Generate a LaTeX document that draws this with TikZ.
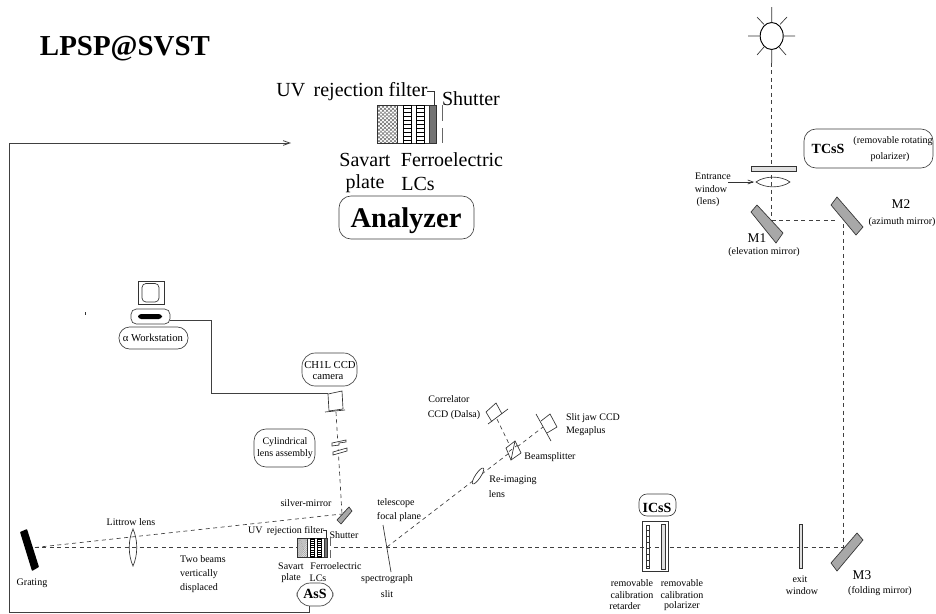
\documentclass[tikz,border=0pt]{standalone}
\usepackage{fontspec}
\setmainfont{Liberation Serif}
\usetikzlibrary{arrows.meta}
\definecolor{mirrorgray}{gray}{0.66}
\definecolor{linegray}{gray}{0.25}
\newcommand{\myhatchw}{0.35pt}
\newcommand{\myhatchc}{black!60}
\tikzset{
  txt/.style={inner sep=0pt,outer sep=0pt,anchor=center,font=\fontsize{7.5pt}{9pt}\selectfont},
  txtm/.style={txt,font=\fontsize{15pt}{18pt}\selectfont},
  txtl/.style={txt,font=\fontsize{8pt}{10pt}\selectfont},
  mlabel/.style={txt,font=\fontsize{10pt}{12pt}\selectfont},
  btxt/.style={txt,font=\fontsize{10.5pt}{12pt}\selectfont\bfseries},
  rbox/.style={draw=linegray,line width=0.5pt,rounded corners=#1},
  rbox/.default=7pt,
  beam/.style={draw=black!75,line width=0.5pt,dash pattern=on 3pt off 2.6pt},
  thin line/.style={draw=black!80,line width=0.5pt},
  cable/.style={draw=linegray,line width=0.6pt},
  mirror/.style={draw=black!80,fill=mirrorgray,line width=0.5pt},
  ladder/.pic={
    \draw[line width=0.5pt] (0,0) rectangle (8,38);
    \foreach \k in {3,7,...,35} \draw[line width=0.6pt] (0,\k) -- (8,\k);
  },
  analyzerblock/.pic={
    \begin{scope}
      \clip (0,0) rectangle (20,38);
      \foreach \k in {-40,-36,...,60} {
        \draw[\myhatchc,line width=\myhatchw] (\k,0) -- ++(40,38);
        \draw[\myhatchc,line width=\myhatchw] (\k,0) -- ++(-40,38);
      }
    \end{scope}
    \draw[thin line] (0,0) rectangle (59,38);
    \draw[thin line] (20,0) -- (20,38);
    \pic at (26,0) {ladder};
    \pic at (39,0) {ladder};
    \draw[draw=black!80,fill=black!55,line width=0.4pt] (52,0) rectangle (59,38);
    \draw[draw=black!60,line width=0.7pt] (65,0) -- (65,16) (65,23) -- (65,38);
    \draw[thin line] (50,-14) -- (57,-14) -- (57,0);
  }
}
\begin{document}
\begin{tikzpicture}[x=0.75pt,y=-0.75pt]
\useasboundingbox (0,0) rectangle (936,614);
\fill[white] (0,0) rectangle (936,614);

% title
\node[txt,font=\fontsize{21.7pt}{24pt}\selectfont\bfseries] (title) at (125,49) {LPSP@SVST};

% large analyzer
\pic at (377,105) {analyzerblock};
\node[txtm] (uvL) at (352,92) {UV\, rejection filter};
\node[txtm] (shL) at (471,99) {Shutter};
\node[txtm] (saL) at (365,160) {Savart};
\node[txtm] (feL) at (452,160) {Ferroelectric};
\node[txtm] (plL) at (365,184) {plate};
\node[txtm] (lcL) at (418,184) {LCs};
\draw[rbox=9pt] (339,196) rectangle (474,239);
\node[txt,font=\fontsize{21.4pt}{24pt}\selectfont\bfseries] (analyzer) at (406,221) {Analyzer};

% long cable from AsS to analyzer
\coordinate (cableA) at (309,606);
\coordinate (cableB) at (291,143);
\draw[cable,-{Straight Barb[length=5pt,width=3.5pt]}] (cableA) -- (309,612.5) -- (9,612.5) -- (9,143) -- (cableB);

% sun
\draw[line width=0.7pt] (771.7,36) ellipse [x radius=11.5,y radius=13.5];
\coordinate (sunB) at (771.7,49.5);
\draw[thin line] (771.7,7) -- (771.7,22.5)
  (748,36) -- (760,36) (783.5,36) -- (795,36)
  (757,17) -- (764,24.5) (787,17) -- (780,24.5)
  (757,55) -- (764,47) (786,55) -- (779,47)
  (sunB) -- (771.7,63);
\coordinate (m1c) at (771.7,220);
\coordinate (m2c) at (843,220);
\coordinate (m3c) at (843.5,547.5);
\coordinate (gr) at (35,547.5);
\coordinate (silver) at (342,514);
\draw[beam] (771.7,63) -- (m1c) -- (838,220);
\draw[beam] (843.5,224) -- (m3c);

% TCsS
\draw[thin line,fill=black!12] (751,166) rectangle (796,171);
\draw[thin line] (756,182) .. controls (765,175.5) and (781,175.5) .. (790,182) .. controls (781,188.5) and (765,188.5) .. (756,182) -- cycle;
\coordinate (entS) at (728,182);
\coordinate (entE) at (754,182);
\draw[thin line,-{Straight Barb[length=4pt,width=3pt]}] (entS) -- (entE);
\draw[rbox=9pt] (804,129) rectangle (933,168);
\node[btxt] (tcss) at (828,149) {TCsS};
\node[txt] (rr) at (893,141) {(removable rotating};
\node[txt] (rp) at (890,157) {polarizer)};
\node[txt] (e1) at (713,176) {Entrance};
\node[txt] (e2) at (711,189) {window};
\node[txt] (e3) at (708,202) {(lens)};

% mirrors
\draw[mirror] (757,205) -- (751,212) -- (776,243) -- (783,233) -- cycle;
\draw[mirror] (837,197) -- (831,205) -- (856,235) -- (863,227) -- cycle;
\draw[mirror] (857,533) -- (863,540) -- (837,571) -- (831,563) -- cycle;
\node[mlabel] (m1) at (757,238) {M1};
\node[txt] (m1t) at (764,252) {(elevation mirror)};
\node[mlabel] (m2) at (901,204) {M2};
\node[txt] (m2t) at (902,222) {(azimuth mirror)};
\node[mlabel] (m3) at (862,575) {M3};
\node[txt] (m3t) at (880,591) {(folding mirror)};

% main beam
\draw[beam] (gr) -- (m3c);
\draw[beam] (gr) -- (silver);

% exit window
\draw[thin line,fill=black!12] (799,524) rectangle (802,568);
\node[txt] (ex1) at (800,579) {exit};
\node[txt] (ex2) at (802,591) {window};

% ICsS
\draw[rbox=6pt] (639,494) rectangle (676,516);
\node[btxt] (icss) at (657,508) {ICsS};
\draw[thin line] (642,521) rectangle (668,571);
\fill[white] (646,525) rectangle (649,568);
\draw[thin line] (646,525) rectangle (649,568);
\foreach \k in {530,536,...,566} \draw[thin line] (646,\k) -- (649,\k);
\draw[thin line,fill=black!12] (661,524) rectangle (665,569);
\node[txt] (r1) at (632,583) {removable};
\node[txt] (r2) at (632,595) {calibration};
\node[txt] (r3) at (625,606) {retarder};
\node[txt] (p1) at (682,583) {removable};
\node[txt] (p2) at (682,595) {calibration};
\node[txt] (p3) at (682,606) {polarizer};

% grating + Littrow
\fill[black,rounded corners=0.5pt] (20,532) -- (27,529) -- (39,567) -- (32,571) -- cycle;
\node[txt] (grat) at (32,583) {Grating};
\draw[thin line] (133,529) .. controls (128,540) and (128,555) .. (133,566) .. controls (138,555) and (138,540) .. (133,529) -- cycle;
\node[txt] (lit) at (131,522) {Littrow lens};
\node[txt] (tb1) at (203,559) {Two beams};
\node[txt] (tb2) at (199,574) {vertically};
\node[txt] (tb3) at (199,588) {displaced};

% small analyzer
\begin{scope}[shift={(297,538)},x=0.39pt,y=-0.39pt]
  \renewcommand{\myhatchw}{0.15pt}
  \renewcommand{\myhatchc}{black!50}
  \fill[white] (0,0) rectangle (66,38);
  \pic at (0,0) {analyzerblock};
\end{scope}
\node[txt] (uvS) at (286,531) {UV\, rejection filter};
\node[txt] (shS) at (344,535) {Shutter};
\node[txt] (saS) at (291,566) {Savart};
\node[txt] (feS) at (336,566) {Ferroelectric};
\node[txt] (plS) at (291,578) {plate};
\node[txt] (lcS) at (318,578) {LCs};
\draw[rbox=10pt] (297,583) rectangle (333,606);
\node[btxt] (ass) at (315,594) {AsS};

% silver mirror and camera arm
\draw[mirror] (349,507) -- (352,511) -- (341,524) -- (337,520) -- cycle;
\node[txt] (sm) at (306,503) {silver-mirror};
\coordinate (camB) at (336,412);
\draw[beam] (camB) -- (silver);
\draw[thin line,fill=white] (332,443) -- (346,440) -- (346,442) -- (339,443) -- (339,445) -- (332,446) -- cycle;
\draw[thin line,fill=white] (333,452) -- (347,448) -- (347,451) -- (340,453) -- (333,455) -- cycle;
\draw[thin line] (328,394) -- (342,391) -- (343,409) -- (329,411) -- cycle;
\draw[thin line] (325,412) -- (345,410);
\draw[rbox=10pt] (302,353) rectangle (357,386);
\node[txtl] (ch1) at (330,365) {CH1L CCD};
\node[txtl] (ch2) at (328,377) {camera};
\draw[rbox=9pt] (254,429) rectangle (315,467);
\node[txt] (cy1) at (285,442) {Cylindrical};
\node[txt] (cy2) at (285,454) {lens assembly};

% workstation
\draw[thin line] (138,281) rectangle (164,304);
\draw[thin line,rounded corners=3pt] (142,283.5) rectangle (159,302);
\draw[rbox=4pt] (131,309) rectangle (170,324);
\fill[black,rounded corners=2.4pt] (138,314) rectangle (162,319);
\draw[rbox=8pt] (119,327) rectangle (188,349);
\node[txtl] (ws) at (153,338) {α Workstation};
\draw[thin line] (85,312) -- (85,315);
\coordinate (wsR) at (170,320);
\coordinate (camL) at (328,393);
\draw[cable] (wsR) -- (211,320) -- (211,393) -- (camL);

% spectrograph slit
\draw[thin line] (383,525) -- (391,572);
\node[txt] (te1) at (396,503) {telescope};
\node[txt] (te2) at (399,517) {focal plane};
\node[txt] (sp1) at (387,579) {spectrograph};
\node[txt] (sp2) at (387,594) {slit};

% re-imaging branch
\coordinate (slitC) at (387,547);
\coordinate (jawC) at (543,427);
\coordinate (corC) at (497,419);
\coordinate (bsC) at (511,448);
\draw[beam] (slitC) -- (jawC);
\draw[beam] (corC) -- (bsC);
\draw[thin line,fill=white,rotate around={56:(478,476)}] (478,476) ellipse [x radius=9.5,y radius=2.6];
\draw[thin line,fill=white] (515,441) -- (521,453) -- (511,460) -- (506,448) -- cycle;
\draw[thin line] (515,441) -- (511,460);
\draw[beam] (509,451.5) -- (517,445.5);
\draw[thin line] (536,414) -- (551,441);
\draw[thin line] (541,421) -- (550,414) -- (557,427) -- (547,433);
\draw[thin line] (488,424) -- (508,409);
\draw[thin line] (492,422) -- (486,412) -- (496,403) -- (502,414);
\node[txt] (co1) at (449,399) {Correlator};
\node[txt] (co2) at (454,415) {CCD (Dalsa)};
\node[txt,anchor=west] (sj1) at (566,418) {Slit jaw CCD};
\node[txt,anchor=west] (sj2) at (566,431) {Megaplus};
\node[txt] (bs) at (550,457) {Beamsplitter};
\node[txt] (ri1) at (513,480) {Re-imaging};
\node[txt] (ri2) at (497,494) {lens};
\end{tikzpicture}
\end{document}
